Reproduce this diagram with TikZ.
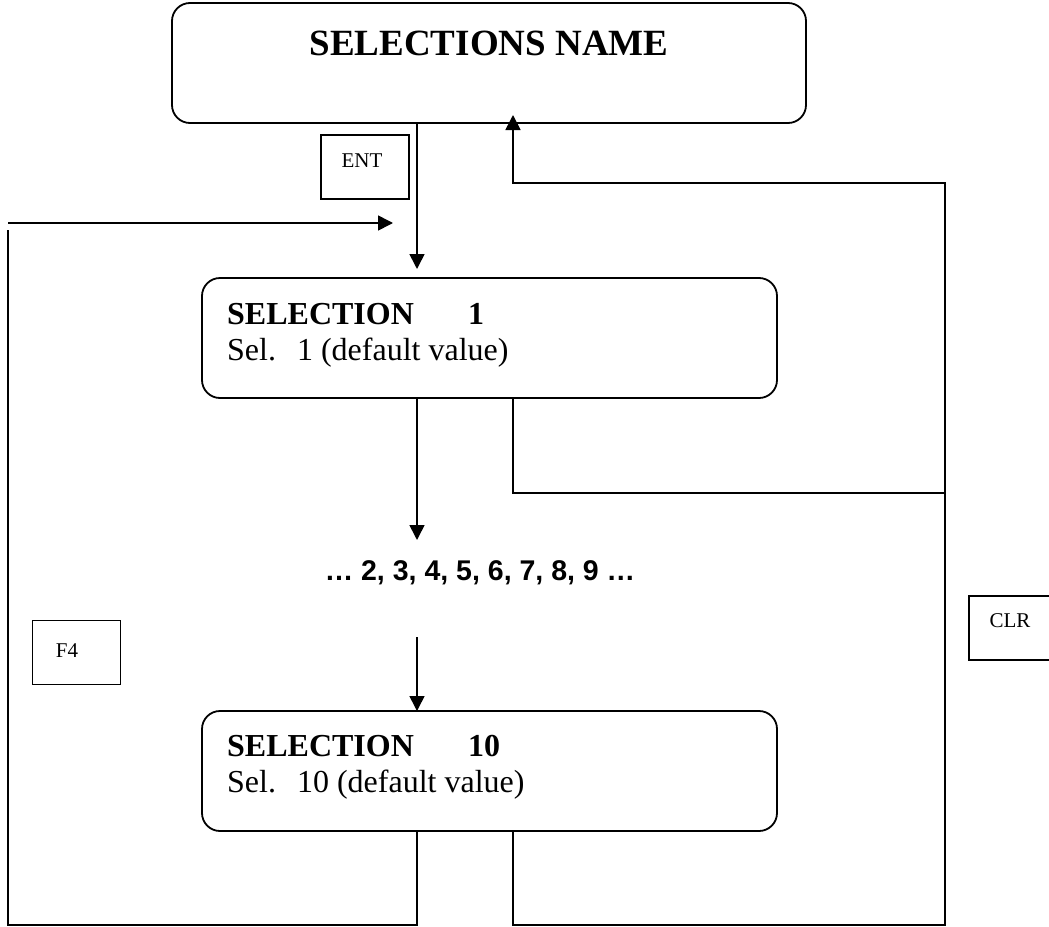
\documentclass[tikz,border=0pt]{standalone}
\usepackage{fontspec}
\setmainfont{Liberation Serif}
\newfontfamily\dotsfont{Liberation Sans}
\usetikzlibrary{arrows.meta}

\tikzset{
  menubox/.style={draw, line width=1.8pt, rounded corners=18pt, outer sep=0pt, inner sep=0pt},
  keybox/.style={draw, line width=1.6pt, outer sep=0pt, inner sep=0pt, minimum width=88pt, minimum height=64pt},
  keytext/.style={anchor=base, inner sep=0pt, font=\fontsize{21}{25}\selectfont},
  headline/.style={anchor=base west, inner sep=0pt, font=\fontsize{32}{38}\selectfont\bfseries},
  subline/.style={anchor=base west, inner sep=0pt, font=\fontsize{32}{38}\selectfont},
  wire/.style={line width=1.6pt},
  arr/.style={wire, -{Triangle[length=15pt,width=15pt]}}
}

\begin{document}
\begin{tikzpicture}[x=1pt, y=-1pt]
\useasboundingbox (0,0) rectangle (1049,926);

% column and row guides for the connectors
\coordinate (colL) at (8,0);
\coordinate (colA) at (417,0);
\coordinate (colB) at (513,0);
\coordinate (colR) at (945,0);
\coordinate (rowTop) at (0,183);
\coordinate (rowMid) at (0,493);
\coordinate (rowBot) at (0,925);

% menu screens
\node[menubox, minimum width=634pt, minimum height=120pt] (top) at (489,63) {};
\node[anchor=base, inner sep=0pt, font=\fontsize{37}{44}\selectfont\bfseries] (title) at (489,55) {SELECTIONS NAME};

\node[menubox, minimum width=575pt, minimum height=120pt] (s1) at (489.5,338) {};
\node[headline] (s1a) at (227,324) {\makebox[241pt][l]{SELECTION}1};
\node[subline] (s1b) at (227,360) {Sel.\hspace{21pt}1 (default value)};

\node[anchor=base, inner sep=0pt, font=\dotsfont\fontsize{28.5}{34}\selectfont\bfseries] (dots) at (480,580) {… 2, 3, 4, 5, 6, 7, 8, 9 …};

\node[menubox, minimum width=575pt, minimum height=120pt] (s10) at (489.5,771) {};
\node[headline] (s10a) at (227,756) {\makebox[241pt][l]{SELECTION}10};
\node[subline] (s10b) at (227,792) {Sel.\hspace{21pt}10 (default value)};

% keys
\node[keybox] (ent) at (365,167) {};
\node[keytext] (entl) at (362,167) {ENT};
\node[keybox] (f4) at (76.5,652.5) {};
\node[keytext] (f4l) at (67,657) {F4};
\node[keybox] (clr) at (1013,628) {};
\node[keytext] (clrl) at (1010,627) {CLR};

% ENT: name screen to first selection
\draw[arr, shorten >=9pt] (top.south -| colA) -- (s1.north -| colA);

% stepping through the selections
\coordinate (dotsIn) at (417,540);
\coordinate (dotsOut) at (417,637);
\draw[arr] (s1.south -| colA) -- (dotsIn);
\draw[arr] (dotsOut) -- (s10.north -| colA);

% CLR: back to the name screen
\draw[wire] (s1.south -| colB) |- (rowMid -| colR);
\draw[arr, shorten >=-8pt] (s10.south -| colB) |- (rowBot -| colR) -- (rowTop -| colR) -| (top.south -| colB);

% F4: from the last selection round to the first
\coordinate (loopTop) at (8,230);
\coordinate (loopStart) at (8,223);
\coordinate (loopEnd) at (393,223);
\draw[wire] (s10.south -| colA) |- (rowBot -| colL) -- (loopTop);
\draw[arr] (loopStart) -- (loopEnd);
\end{tikzpicture}
\end{document}
